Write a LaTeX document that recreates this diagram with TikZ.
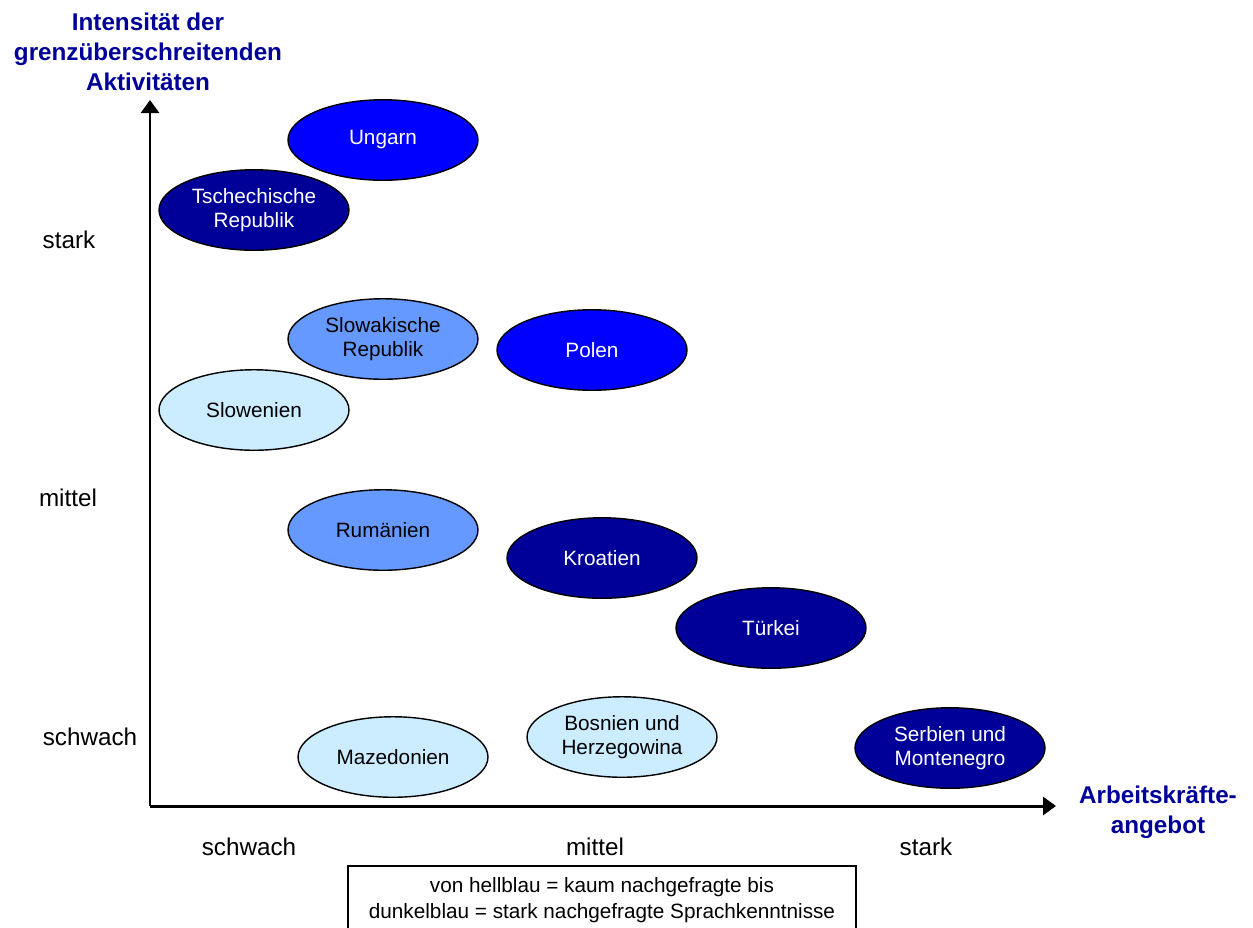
\documentclass[tikz,border=0pt]{standalone}
\usepackage{fontspec}
\setmainfont{Liberation Sans}
\usetikzlibrary{shapes.geometric,arrows.meta}

\definecolor{navyblue}{RGB}{0,0,153}
\definecolor{fullblue}{RGB}{0,0,255}
\definecolor{midblue}{RGB}{102,153,255}
\definecolor{paleblue}{RGB}{204,236,255}

\begin{document}
\begin{tikzpicture}[x=0.02cm, y=-0.02cm,
  land/.style={draw, ellipse, line width=0.8pt, minimum width=3.8cm, minimum height=1.61cm,
    inner sep=0pt, align=center, font=\fontsize{11.8}{13.6}\selectfont},
  dark/.style={land, fill=navyblue, text=white},
  strong/.style={land, fill=fullblue, text=white},
  medium/.style={land, fill=midblue, text=black},
  pale/.style={land, fill=paleblue, text=black},
  level/.style={font=\fontsize{13.8}{16}\selectfont},
  axistitle/.style={align=center, text=navyblue, font=\fontsize{13.8}{17}\selectfont\bfseries},
  axis/.style={line width=1.7pt, -{Triangle[length=0.26cm, width=0.36cm]}}]
\useasboundingbox (0,0) rectangle (1253,927);

% axes
\coordinate (o) at (150,806);
\coordinate (ytop) at (150,100);
\coordinate (xend) at (1056,806);
\draw[axis] (o) -- (ytop);
\draw[axis] (o) -- (xend);

\node[axistitle] (ytitle) at (148,52) {Intensität der\\grenzüberschreitenden\\Aktivitäten};
\node[axistitle] (xtitle) at (1158,812) {Arbeitskräfte-\\angebot};

% levels
\node[level] (ystark) at (69,240) {stark};
\node[level] (ymittel) at (68,498) {mittel};
\node[level] (yschwach) at (90,737) {schwach};
\node[level] (xschwach) at (249,847) {schwach};
\node[level] (xmittel) at (595,847) {mittel};
\node[level] (xstark) at (926,847) {stark};

% countries
\node[strong] (ungarn) at (383,140) {Ungarn};
\node[dark] (tschechien) at (254,210) {Tschechische\\Republik};
\node[medium] (slowakei) at (383,339) {Slowakische\\Republik};
\node[strong] (polen) at (592,350) {Polen};
\node[pale] (slowenien) at (254,410) {Slowenien};
\node[medium] (rumaenien) at (383,530) {Rumänien};
\node[dark] (kroatien) at (602,558) {Kroatien};
\node[dark] (tuerkei) at (771,628) {Türkei};
\node[pale] (mazedonien) at (393,757) {Mazedonien};
\node[pale] (bosnien) at (622,737) {Bosnien und\\Herzegowina};
\node[dark] (serbien) at (950,748) {Serbien und\\Montenegro};

% legend
\node[draw, line width=0.8pt, minimum width=10.16cm, minimum height=1.36cm, align=center,
  font=\fontsize{11.8}{14.7}\selectfont] (legende) at (602,900)
  {von hellblau = kaum nachgefragte bis\\dunkelblau = stark nachgefragte Sprachkenntnisse};
\end{tikzpicture}
\end{document}
